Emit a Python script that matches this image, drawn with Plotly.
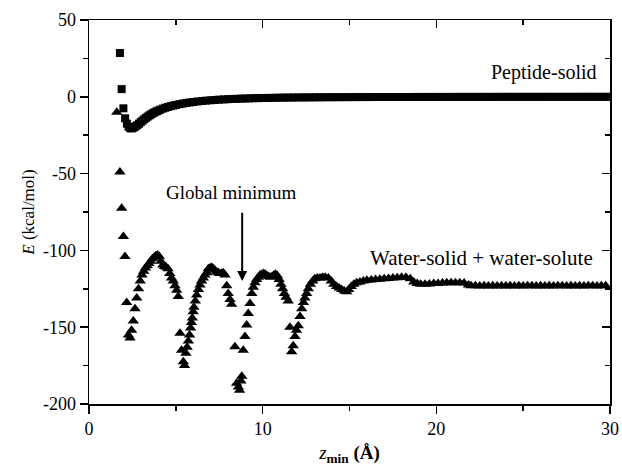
import plotly.graph_objects as go

# Peptide-solid (squares)
pep_x = [1.78, 1.88, 1.98, 2.08, 2.18, 2.28, 2.38, 2.48, 2.58, 2.68, 2.78, 2.88, 2.98,
         3.08, 3.18, 3.28, 3.38, 3.48, 3.58, 3.68, 3.78, 3.88, 3.98, 4.1, 4.25, 4.4,
         4.55, 4.7, 4.85, 5.0, 5.2, 5.4, 5.6, 5.8, 6.0, 6.25, 6.5, 6.75, 7.0, 7.25,
         7.5, 7.75, 8.0, 8.25, 8.5, 8.75, 9.0, 9.25, 9.5, 9.75, 10.0, 10.25, 10.5,
         10.75, 11.0, 11.25, 11.5, 11.75, 12.0, 12.25, 12.5, 12.75, 13.0, 13.25, 13.5,
         13.75, 14.0, 14.25, 14.5, 14.75, 15.0, 15.25, 15.5, 15.75, 16.0, 16.25, 16.5,
         16.75, 17.0, 17.25, 17.5, 17.75, 18.0, 18.25, 18.5, 18.75, 19.0, 19.25, 19.5,
         19.75, 20.0, 20.25, 20.5, 20.75, 21.0, 21.25, 21.5, 21.75, 22.0, 22.25, 22.5,
         22.75, 23.0, 23.25, 23.5, 23.75, 24.0, 24.25, 24.5, 24.75, 25.0, 25.25, 25.5,
         25.75, 26.0, 26.25, 26.5, 26.75, 27.0, 27.25, 27.5, 27.75, 28.0, 28.25, 28.5,
         28.75, 29.0, 29.25, 29.5, 29.75, 30.0]
pep_y = [28.5, 5.0, -7.5, -14.0, -17.5, -19.5, -20.5, -20.5, -20.0, -19.3, -18.5, -17.5, -16.5,
         -15.5, -14.6, -13.7, -12.9, -12.1, -11.4, -10.7, -10.1, -9.5, -9.0, -8.4, -7.7, -7.1,
         -6.6, -6.1, -5.7, -5.3, -4.8, -4.4, -4.0, -3.7, -3.4, -3.05, -2.75, -2.5, -2.25, -2.05,
         -1.85, -1.7, -1.55, -1.4, -1.3, -1.2, -1.1, -1.0, -0.92, -0.85, -0.8, -0.74, -0.68,
         -0.63, -0.58, -0.54, -0.5, -0.47, -0.44, -0.41, -0.38, -0.36, -0.34, -0.32, -0.3,
         -0.28, -0.26, -0.25, -0.24, -0.22, -0.21, -0.2, -0.19, -0.18, -0.17, -0.16, -0.15,
         -0.15, -0.14, -0.13, -0.13, -0.12, -0.12, -0.11, -0.11, -0.1, -0.1, -0.09, -0.09,
         -0.09, -0.08, -0.08, -0.08, -0.07, -0.07, -0.07, -0.06, -0.06, -0.06, -0.06, -0.05,
         -0.05, -0.05, -0.05, -0.04, -0.04, -0.04, -0.04, -0.04, -0.03, -0.03, -0.03, -0.03,
         -0.03, -0.03, -0.02, -0.02, -0.02, -0.02, -0.02, -0.02, -0.02, -0.01, -0.01, -0.01,
         -0.01, -0.01, -0.01, -0.01, -0.01, -0.01]

# Water-solid + water-solute (triangles)
wat_x = [1.6, 1.78, 1.88, 1.98, 2.07, 2.17, 2.27, 2.36, 2.45, 2.55, 2.65, 2.75, 2.85, 2.95,
         3.05, 3.15, 3.25, 3.35, 3.45, 3.55, 3.65, 3.75, 3.85, 3.95, 4.05, 4.15, 4.25, 4.35,
         4.45, 4.55, 4.65, 4.75, 4.85, 4.95, 5.05, 5.14, 5.24, 5.33, 5.43, 5.5, 5.58, 5.65,
         5.72, 5.79, 5.85, 5.9, 5.95, 6.0, 6.04, 6.12, 6.2, 6.3, 6.39, 6.48, 6.58, 6.68,
         6.78, 6.87, 6.97, 7.06, 7.16, 7.25, 7.35, 7.45, 7.54, 7.64, 7.73, 7.83, 7.93, 8.02,
         8.12, 8.21, 8.4, 8.5, 8.6, 8.67, 8.75, 8.8, 8.88, 8.98, 9.08, 9.17, 9.27, 9.37,
         9.46, 9.56, 9.65, 9.75, 9.85, 9.95, 10.05, 10.15, 10.25, 10.35, 10.45, 10.55, 10.65,
         10.75, 10.85, 10.95, 11.05, 11.15, 11.25, 11.35, 11.47, 11.57, 11.67, 11.76, 11.86,
         11.95, 12.05, 12.15, 12.25, 12.35, 12.43, 12.53, 12.63, 12.75, 12.88, 13.0, 13.15,
         13.3, 13.45, 13.6, 13.78, 13.95, 14.1, 14.26, 14.4, 14.55, 14.7, 14.84, 14.95, 15.1,
         15.25, 15.41, 15.6, 15.8, 16.0, 16.25, 16.5, 16.75, 17.0, 17.25, 17.5, 17.75, 18.0,
         18.25, 18.5, 18.7, 18.9, 19.1, 19.35, 19.6, 19.85, 20.1, 20.35, 20.6, 20.85, 21.1,
         21.35, 21.6, 21.85, 22.0, 22.25, 22.5, 22.75, 23.0, 23.25, 23.5, 23.75, 24.0, 24.25,
         24.5, 24.75, 25.0, 25.25, 25.5, 25.75, 26.0, 26.25, 26.5, 26.75, 27.0, 27.25, 27.5,
         27.75, 28.0, 28.25, 28.5, 28.75, 29.0, 29.25, 29.5, 29.75, 30.0]
wat_y = [-10, -49, -72.5, -91, -104, -134, -155, -157, -152, -146, -138, -131, -125, -120,
         -116, -113.5, -111.5, -110, -108.5, -107, -105.5, -104.5, -103.5, -103, -104, -107,
         -109.5, -110.5, -111, -112, -115, -118, -120, -123, -126, -130, -154, -165, -172.5,
         -175, -167, -163, -159, -155, -150.5, -147, -144, -140, -137, -133, -129, -125.5,
         -122.5, -120, -118, -116, -114.5, -112, -111.5, -111, -112, -113, -114, -114.5, -115,
         -115, -114.5, -116, -123, -128, -132, -135, -162.7, -186.5, -189, -191, -185, -182,
         -165, -156, -148.5, -141, -134.5, -128, -124, -121, -119, -117.5, -116, -115.5, -115,
         -115.5, -116.5, -117, -117.5, -117, -116, -115.5, -116.5, -119, -122, -125, -128,
         -130.5, -133, -150, -166, -162, -156, -152, -149, -143, -138, -134, -131, -128, -125,
         -122, -120, -118.5, -118, -118, -117.5, -117.5, -118, -120, -122, -123.5, -124.5,
         -125.5, -126.5, -127, -125.5, -123.5, -122, -121, -120.5, -120, -119.5, -119.3, -119,
         -118.8, -118.5, -118.3, -118, -117.8, -117.5, -117.5, -118.5, -120.5, -121.5, -122,
         -122, -121.8, -121.5, -121.5, -121.3, -121, -121, -121, -121, -121.3, -122.5, -123,
         -123, -123.2, -123, -123.1, -123, -123.2, -123, -123.1, -123, -123.2, -123, -123.1,
         -123, -123, -123.1, -123, -123.2, -123, -123.1, -123, -123, -123.1, -123, -123.2,
         -123, -123.1, -123, -123, -123.1, -123, -123]

x_ticks = [0, 10, 20, 30]
x_ticktext = ["0", "10", "20", "30"]
y_ticks = [-200, -150, -100, -50, 0, 50]
y_ticktext = ["-200", "-150", "-100", "-50", "0", "50"]
x_minor = [5, 15, 25]
y_minor = [-175, -125, -75, -25, 25]

FONT = "Liberation Serif"

fig = go.Figure()
fig.add_trace(go.Scatter(x=pep_x, y=pep_y, mode="markers",
                         marker=dict(symbol="square", size=8, color="black", line=dict(width=0)),
                         showlegend=False, hoverinfo="skip"))
fig.add_trace(go.Scatter(x=wat_x, y=wat_y, mode="markers",
                         marker=dict(symbol="triangle-up", size=10, color="black", line=dict(width=0)),
                         showlegend=False, hoverinfo="skip"))
# dummy trace for mirrored axes
fig.add_trace(go.Scatter(x=[None], y=[None], xaxis="x2", yaxis="y2", showlegend=False,
                         hoverinfo="skip"))

axis_common = dict(showline=True, linecolor="black", linewidth=1.5, showgrid=False,
                   zeroline=False, tickcolor="black", tickwidth=1.5, automargin=False)

fig.update_layout(
    width=622, height=471,
    margin=dict(l=89, r=12, t=20, b=67),
    plot_bgcolor="white", paper_bgcolor="white",
    font=dict(family=FONT, size=18, color="black"),
    hovermode=False,
    xaxis=dict(range=[0, 30], tickvals=x_ticks, ticktext=x_ticktext,
               ticks="outside", ticklen=8, tickfont=dict(size=18),
               minor=dict(tickvals=x_minor, ticks="outside", ticklen=5,
                          tickcolor="black", tickwidth=1.5),
               title=dict(text="<i>z</i><sub><b>min</b></sub> <b>(Å)</b>",
                          font=dict(size=19), standoff=7),
               **axis_common),
    yaxis=dict(range=[-200, 50], tickvals=y_ticks, ticktext=y_ticktext,
               ticks="outside", ticklen=8, tickfont=dict(size=18),
               minor=dict(tickvals=y_minor, ticks="outside", ticklen=5,
                          tickcolor="black", tickwidth=1.5),
               title=dict(text="<i>E</i> (kcal/mol)", font=dict(size=17), standoff=4),
               **axis_common),
    xaxis2=dict(range=[0, 30], overlaying="x", side="top", anchor="y",
                tickvals=x_ticks, ticks="inside", ticklen=8, showticklabels=False,
                minor=dict(tickvals=x_minor, ticks="inside", ticklen=5,
                           tickcolor="black", tickwidth=1.5),
                **axis_common),
    yaxis2=dict(range=[-200, 50], overlaying="y", side="right", anchor="x",
                tickvals=y_ticks, ticks="inside", ticklen=8, showticklabels=False,
                minor=dict(tickvals=y_minor, ticks="inside", ticklen=5,
                           tickcolor="black", tickwidth=1.5),
                **axis_common),
)

fig.add_annotation(x=26.2, y=15.6, xref="x", yref="y", text="Peptide-solid",
                   showarrow=False, font=dict(family=FONT, size=20, color="black"))
fig.add_annotation(x=22.6, y=-105, xref="x", yref="y", text="Water-solid + water-solute",
                   showarrow=False, font=dict(family=FONT, size=21, color="black"))
fig.add_annotation(x=8.2, y=-62, xref="x", yref="y", text="Global minimum",
                   showarrow=False, font=dict(family=FONT, size=19, color="black"))
fig.add_annotation(x=8.82, y=-120, ax=8.82, ay=-74.5, xref="x", yref="y",
                   axref="x", ayref="y", text="", showarrow=True,
                   arrowhead=2, arrowsize=1, arrowwidth=2, arrowcolor="black")

fig.write_html("out.html", config={"displayModeBar": False, "staticPlot": True},
               post_script="document.body.style.margin='0';document.body.style.padding='0';")
